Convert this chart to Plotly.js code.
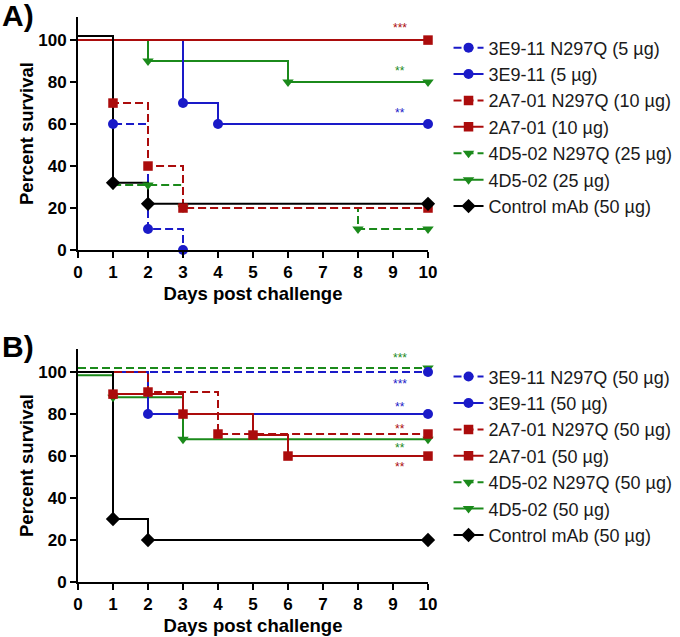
<!DOCTYPE html>
<html><head><meta charset="utf-8">
<script src="https://cdn.plot.ly/plotly-3.0.1.min.js"></script>
<style>html,body{margin:0;padding:0;background:#fff}</style>
</head><body><div id="chart" style="width:680px;height:637px"></div>
<script>
// ---- Series names and legend labels ----
const seriesNames = ['3E9-11 N297Q', '3E9-11', '2A7-01 N297Q', '2A7-01', '4D5-02 N297Q', '4D5-02', 'Control mAb'];
const dosesA = ['5 µg', '5 µg', '10 µg', '10 µg', '25 µg', '25 µg', '50 µg'];
const dosesB = ['50 µg', '50 µg', '50 µg', '50 µg', '50 µg', '50 µg', '50 µg'];

// ---- Panel A: days post challenge / percent survival ----
const a_3E9N_days = [0, 1, 2, 3];         const a_3E9N_surv = [100, 60, 10, 0];
const a_3E9_days  = [0, 3, 4, 10];        const a_3E9_surv  = [100, 70, 60, 60];
const a_2A7N_days = [0, 1, 2, 3, 10];     const a_2A7N_surv = [100, 70, 40, 20, 20];
const a_2A7_days  = [0, 10];              const a_2A7_surv  = [100, 100];
const a_4D5N_days = [0, 1, 2, 3, 8, 10];  const a_4D5N_surv = [100, 31, 31, 20, 10, 10];
const a_4D5_days  = [0, 2, 6, 10];        const a_4D5_surv  = [100, 90, 80, 80];
const a_ctrl_days = [0, 1, 2, 10];        const a_ctrl_surv = [102, 32, 22, 22];

// ---- Panel B ----
const b_3E9N_days = [0, 10];              const b_3E9N_surv = [100, 100];
const b_3E9_days  = [0, 2, 10];           const b_3E9_surv  = [100, 80, 80];
const b_2A7N_days = [0, 2, 4, 10];        const b_2A7N_surv = [100, 90.5, 70.5, 70.5];
const b_2A7_days  = [0, 1, 3, 5, 6, 10];  const b_2A7_surv  = [100, 89.5, 80, 70, 60, 60];
const b_4D5N_days = [0, 10];              const b_4D5N_surv = [102, 102];
const b_4D5_days  = [0, 1, 3, 10];        const b_4D5_surv  = [98.5, 88, 68, 68];
const b_ctrl_days = [0, 1, 2, 10];        const b_ctrl_surv = [100, 30, 20, 20];

// ---- Significance stars ----
const starsA_text = ['***', '**', '**'];
const starsA_day  = [9.2, 9.2, 9.2];
const starsA_surv = [106, 85.5, 65.5];
const starsA_series = [3, 5, 1];
const starsB_text = ['***', '***', '**', '**', '**', '**'];
const starsB_day  = [9.2, 9.2, 9.2, 9.2, 9.2, 9.2];
const starsB_surv = [106.5, 94.5, 83.2, 72.8, 63.9, 54.8];
const starsB_series = [4, 0, 1, 2, 5, 3];

const xTicks = [0,1,2,3,4,5,6,7,8,9,10];
const yTicks = [0,20,40,60,80,100];

// ---- Styles ----
const BLUE = '#1a1ac8', RED = '#ab0c0c', GREEN = '#1b8a1b', BLACK = '#000000';
const colors  = [BLUE, BLUE, RED, RED, GREEN, GREEN, BLACK];
const dashes  = ['8px,4px', 'solid', '8px,4px', 'solid', '8px,4px', 'solid', 'solid'];
const symbols = ['circle', 'circle', 'square', 'square', 'triangle-down', 'triangle-down', 'diamond'];
const msizes  = [10, 10, 9.5, 9.5, 10, 10, 11];

const panelA = [[a_3E9N_days,a_3E9N_surv],[a_3E9_days,a_3E9_surv],[a_2A7N_days,a_2A7N_surv],[a_2A7_days,a_2A7_surv],[a_4D5N_days,a_4D5N_surv],[a_4D5_days,a_4D5_surv],[a_ctrl_days,a_ctrl_surv]];
const panelB = [[b_3E9N_days,b_3E9N_surv],[b_3E9_days,b_3E9_surv],[b_2A7N_days,b_2A7N_surv],[b_2A7_days,b_2A7_surv],[b_4D5N_days,b_4D5N_surv],[b_4D5_days,b_4D5_surv],[b_ctrl_days,b_ctrl_surv]];

const lineOrder = [4, 5, 0, 1, 2, 3, 6];
const markerOrder = [4, 5, 2, 3, 0, 1, 6];
const FONT = 'Liberation Sans, Arial, Helvetica, sans-serif';

const traces = [];
function addPanel(panel, xa, ya, legendId, doses) {
  lineOrder.forEach(i => {
    traces.push({x: panel[i][0], y: panel[i][1], xaxis: xa, yaxis: ya, type: 'scatter', mode: 'lines',
      line: {shape: 'hv', color: colors[i], width: 2, dash: dashes[i]}, showlegend: false, hoverinfo: 'skip'});
  });
  markerOrder.forEach(i => {
    traces.push({x: panel[i][0].slice(1), y: panel[i][1].slice(1), xaxis: xa, yaxis: ya, type: 'scatter', mode: 'markers',
      cliponaxis: false, marker: {symbol: symbols[i], size: msizes[i], color: colors[i]}, showlegend: false});
  });
  for (let i = 0; i < 7; i++) {
    traces.push({x: [null], y: [null], xaxis: xa, yaxis: ya, type: 'scatter', mode: 'lines+markers',
      name: seriesNames[i] + ' (' + doses[i] + ')', legend: legendId,
      line: {color: colors[i], width: 2, dash: dashes[i]},
      marker: {symbol: symbols[i], size: msizes[i], color: colors[i]}});
  }
}
addPanel(panelA, 'x', 'y', 'legend', dosesA);
addPanel(panelB, 'x2', 'y2', 'legend2', dosesB);

const annotations = [];
starsA_text.forEach((t, k) => annotations.push({x: starsA_day[k], y: starsA_surv[k], xref: 'x', yref: 'y', text: t, showarrow: false,
  font: {family: FONT, size: 12, color: colors[starsA_series[k]]}}));
starsB_text.forEach((t, k) => annotations.push({x: starsB_day[k], y: starsB_surv[k], xref: 'x2', yref: 'y2', text: t, showarrow: false,
  font: {family: FONT, size: 12, color: colors[starsB_series[k]]}}));
annotations.push({xref: 'paper', yref: 'paper', x: -0.223, y: 1.002, xanchor: 'left', yanchor: 'middle', text: '<b>A)</b>', showarrow: false,
  font: {family: FONT, size: 30, color: '#000'}});
annotations.push({xref: 'paper', yref: 'paper', x: -0.223, y: 0.4168, xanchor: 'left', yanchor: 'middle', text: '<b>B)</b>', showarrow: false,
  font: {family: FONT, size: 30, color: '#000'}});

function xAxis(anchor) {
  return {anchor: anchor, domain: [0, 1], range: [0, 10], tickvals: xTicks, ticktext: xTicks.map(String),
    showline: true, linewidth: 2, linecolor: '#000', ticks: 'outside', ticklen: 6, tickwidth: 2, tickcolor: '#000',
    showgrid: false, zeroline: false, tickfont: {family: FONT, size: 17, color: '#000', weight: 'bold'},
    title: {text: '<b>Days post challenge</b>', font: {family: FONT, size: 18.5, color: '#000'}, standoff: 6}};
}
function yAxis(anchor, domain) {
  return {anchor: anchor, domain: domain, range: [0, 111], tickvals: yTicks, ticktext: yTicks.map(String),
    showline: true, linewidth: 2, linecolor: '#000', ticks: 'outside', ticklen: 6, tickwidth: 2, tickcolor: '#000',
    showgrid: false, zeroline: false, tickfont: {family: FONT, size: 17, color: '#000', weight: 'bold'},
    title: {text: '<b>Percent survival</b>', font: {family: FONT, size: 18.5, color: '#000'}, standoff: 0}};
}

const legendStyle = {xref: 'container', yref: 'container', xanchor: 'left', yanchor: 'top',
  font: {family: FONT, size: 18, color: '#1a1a1a'}, bgcolor: 'rgba(0,0,0,0)', itemwidth: 30};
const layout = {
  width: 680, height: 637,
  margin: {l: 78, r: 252, t: 17, b: 55},
  paper_bgcolor: '#fff', plot_bgcolor: '#fff',
  font: {family: FONT, color: '#000'},
  xaxis: xAxis('y'), yaxis: yAxis('x', [0.5876, 1]),
  xaxis2: xAxis('y2'), yaxis2: yAxis('x2', [0, 0.4124]),
  legend: Object.assign({x: 0.6596, y: 0.9538}, legendStyle),
  legend2: Object.assign({x: 0.6596, y: 0.4374}, legendStyle),
  annotations: annotations,
  showlegend: true
};

Plotly.newPlot('chart', traces, layout, {displayModeBar: false, staticPlot: true});
</script></body></html>
